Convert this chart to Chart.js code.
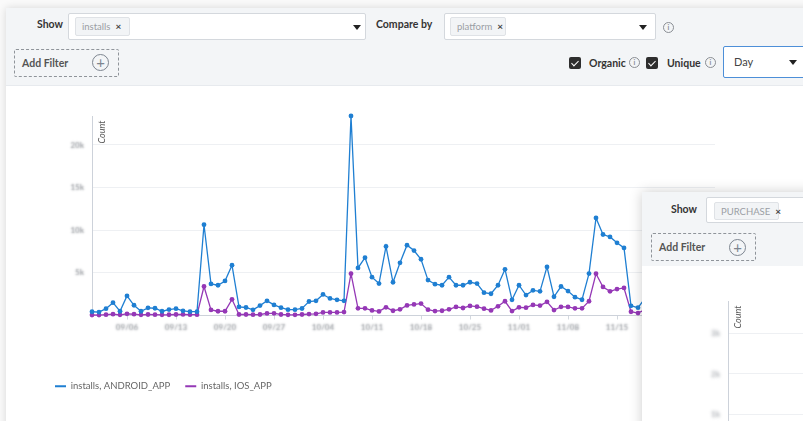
<!DOCTYPE html>
<html>
<head>
<meta charset="utf-8">
<script src="https://cdn.jsdelivr.net/npm/chart.js@4"></script>
<style>
  html, body { margin:0; padding:0; }
  body { width:803px; height:421px; overflow:hidden; position:relative; background:#fafafa; font-family:Lato, "Open Sans", sans-serif; color:#333; }
  .abs { position:absolute; }
  .card { background:#fff; box-shadow:0 0 8px rgba(0,0,0,0.14); }
  .hdr { background:#f3f5f7; border-bottom:1px solid #e7eaee; }
  .lbl { font-size:10.5px; font-weight:700; color:#333; line-height:14px; white-space:nowrap; }
  .sel { background:#fff; border:1px solid #d4d8dd; border-radius:2px; box-sizing:border-box; }
  .tag { background:#f2f4f6; border:1px solid #dfe2e6; border-radius:2px; box-sizing:border-box; font-size:9.5px; color:#9a9ea4; line-height:16px; padding-left:6px; white-space:nowrap; }
  .tag b { color:#444; font-weight:700; margin-left:5px; font-size:10px; }
  .arrow { width:0; height:0; border-left:4px solid transparent; border-right:4px solid transparent; border-top:5px solid #222; }
  .info { width:9px; height:9px; border:1px solid #8a8e94; border-radius:50%; font-size:7px; line-height:9px; text-align:center; color:#8a8e94; font-weight:700; }
  .dash { border:1px dashed #8f949a; box-sizing:border-box; border-radius:2px; }
  .plus { width:17px; height:17px; border:1px solid #7d8590; border-radius:50%; box-sizing:border-box; text-align:center; line-height:14px; font-size:15px; color:#7d8590; }
  .chk { width:12px; height:12px; background:#2e2e2e; border-radius:2px; }
  .chk:after { content:""; position:absolute; left:4px; top:1.5px; width:3px; height:6px; border:solid #fff; border-width:0 1.6px 1.6px 0; transform:rotate(45deg); }
</style>
</head>
<body>
<!-- main card -->
<div class="abs card" style="left:6px;top:8px;width:840px;height:460px;"></div>
<div class="abs hdr" style="left:6px;top:8px;width:840px;height:77px;"></div>

<div class="abs lbl" style="left:37px;top:17px;">Show</div>
<div class="abs sel" style="left:68px;top:13px;width:298px;height:27px;"></div>
<div class="abs tag" style="left:75px;top:17px;width:55px;height:19px;">installs<b>×</b></div>
<div class="abs arrow" style="left:353px;top:25px;"></div>

<div class="abs lbl" style="left:376px;top:17px;">Compare by</div>
<div class="abs sel" style="left:444px;top:13px;width:212px;height:27px;"></div>
<div class="abs tag" style="left:450px;top:17px;width:56px;height:19px;">platform<b>×</b></div>
<div class="abs arrow" style="left:639px;top:25px;"></div>
<div class="abs info" style="left:663px;top:22px;">i</div>

<div class="abs dash" style="left:14px;top:49px;width:105px;height:28px;"></div>
<div class="abs lbl" style="left:22px;top:56px;color:#555;">Add Filter</div>
<div class="abs plus" style="left:92px;top:54px;">+</div>

<div class="abs chk" style="left:569px;top:57px;"></div>
<div class="abs lbl" style="left:589px;top:56px;">Organic</div>
<div class="abs info" style="left:629px;top:57px;">i</div>
<div class="abs chk" style="left:646px;top:57px;"></div>
<div class="abs lbl" style="left:667px;top:56px;">Unique</div>
<div class="abs info" style="left:705px;top:57px;">i</div>
<div class="abs sel" style="left:723px;top:46px;width:90px;height:32px;border:1px solid #4d8fd8;"></div>
<div class="abs" style="left:734px;top:55px;font-size:11px;color:#444;line-height:14px;">Day</div>
<div class="abs arrow" style="left:789px;top:60px;"></div>

<div class="abs" style="left:0;top:90px;width:803px;height:320px;"><canvas id="main"></canvas></div>

<!-- overlay card -->
<div class="abs card" style="left:642px;top:192px;width:220px;height:260px;box-shadow:0 0 12px rgba(0,0,0,0.2);"></div>
<div class="abs hdr" style="left:642px;top:192px;width:220px;height:74px;border-bottom:none;"></div>
<div class="abs lbl" style="left:671px;top:202px;">Show</div>
<div class="abs sel" style="left:706px;top:197px;width:130px;height:26px;"></div>
<div class="abs tag" style="left:714px;top:202px;width:65px;height:18px;">PURCHASE<b>×</b></div>
<div class="abs dash" style="left:651px;top:233px;width:105px;height:28px;"></div>
<div class="abs lbl" style="left:659px;top:240px;color:#555;">Add Filter</div>
<div class="abs plus" style="left:729px;top:239px;">+</div>
<div class="abs" style="left:642px;top:266px;width:170px;height:250px;"><canvas id="purchase"></canvas></div>

<script>
// ---------- data ----------
const dates = [
  '09/01','09/02','09/03','09/04','09/05','09/06','09/07','09/08','09/09','09/10',
  '09/11','09/12','09/13','09/14','09/15','09/16','09/17','09/18','09/19','09/20',
  '09/21','09/22','09/23','09/24','09/25','09/26','09/27','09/28','09/29','09/30',
  '10/01','10/02','10/03','10/04','10/05','10/06','10/07','10/08','10/09','10/10',
  '10/11','10/12','10/13','10/14','10/15','10/16','10/17','10/18','10/19','10/20',
  '10/21','10/22','10/23','10/24','10/25','10/26','10/27','10/28','10/29','10/30',
  '10/31','11/01','11/02','11/03','11/04','11/05','11/06','11/07','11/08','11/09',
  '11/10','11/11','11/12','11/13','11/14','11/15','11/16','11/17','11/18','11/19',
  '11/20','11/21','11/22','11/23','11/24','11/25','11/26','11/27','11/28','11/29'
];
const androidInstalls = [
  440, 400, 800, 1500, 500, 2300, 1200, 500, 900, 850,
  500, 700, 800, 550, 450, 450, 10650, 3700, 3550, 4050,
  5900, 1000, 940, 660, 1160, 1720, 1240, 920, 680, 680,
  820, 1640, 1720, 2470, 2000, 1840, 1720, 23400, 5580, 6780,
  4500, 3750, 8100, 3900, 6180, 8250, 7620, 6600, 4150, 3670,
  3550, 4500, 3550, 3550, 3900, 3750, 2680, 2550, 3550, 5420,
  1840, 3550, 2390, 2950, 2830, 5700, 2200, 3400, 2870, 2150,
  1850, 4920, 11450, 9500, 9220, 8530, 7930, 1140, 920, 2000
];
const iosInstalls = [
  60, 50, 100, 150, 80, 200, 150, 80, 120, 100,
  80, 90, 120, 130, 100, 100, 3400, 650, 500, 500,
  1900, 120, 120, 100, 120, 240, 260, 120, 80, 80,
  120, 170, 200, 360, 360, 360, 400, 4900, 840, 840,
  600, 480, 960, 560, 720, 1180, 1300, 1400, 680, 520,
  560, 720, 1000, 880, 1120, 1040, 800, 600, 1080, 1670,
  520, 960, 920, 1240, 1160, 1600, 640, 1020, 1000, 840,
  840, 1670, 4900, 3350, 2830, 3100, 3230, 440, 280, 680
];
const seriesNames = ['installs, ANDROID_APP', 'installs, IOS_APP'];
const xTickLabels = ['09/06','09/13','09/20','09/27','10/04','10/11','10/18','10/25','11/01','11/08','11/15','11/22','11/29'];
const yTickValues = [5000, 10000, 15000, 20000];
const yTickText = ['5k', '10k', '15k', '20k'];
const purchaseTickValues = [1000, 2000, 3000];
const purchaseTickText = ['1k', '2k', '3k'];
const purchaseMax = 3800;
const axisTitle = 'Count';

// ---------- styling ----------
Chart.defaults.font.family = 'Lato, "Open Sans", sans-serif';
const BLUE = '#1f7fd2';
const PURPLE = '#9538b6';
const OFF = 10000;

// draws the (blurred-looking) tick labels of each scale and the inner "Count" title
const decor = {
  id: 'decor',
  afterDraw(chart, args, opts) {
    const ctx = chart.ctx, a = chart.chartArea;
    ['x', 'y'].forEach(id => {
      const s = chart.scales[id];
      if (!opts[id]) return;
      ctx.save();
      ctx.font = 'bold 8px Lato, sans-serif';
      ctx.fillStyle = '#000';
      ctx.shadowColor = opts.color;
      ctx.shadowBlur = opts.blur;
      ctx.shadowOffsetX = OFF * (chart.currentDevicePixelRatio || 1);
      ctx.shadowOffsetY = 0;
      ctx.textBaseline = 'middle';
      ctx.textAlign = id === 'x' ? 'center' : 'right';
      s.ticks.forEach((t, i) => {
        const p = s.getPixelForTick(i);
        if (id === 'x') ctx.fillText(t.label, p - OFF, s.top + 12);
        else ctx.fillText(t.label, s.right - 8 - OFF, p);
      });
      ctx.restore();
    });
    ctx.save();
    ctx.translate(a.left + 10, a.top + 16);
    ctx.rotate(-Math.PI / 2);
    ctx.font = 'italic 9px Lato, sans-serif';
    ctx.fillStyle = '#555';
    ctx.textAlign = 'center';
    ctx.textBaseline = 'middle';
    ctx.fillText(axisTitle, 0, 0);
    ctx.restore();
  }
};

function ds(label, data, color) {
  return { label, data, borderColor: color, backgroundColor: color, borderWidth: 1.3,
           pointRadius: 2.4, pointBorderWidth: 0, pointBackgroundColor: color,
           tension: 0, clip: false };
}

new Chart(document.getElementById('main'), {
  type: 'line',
  data: { labels: dates, datasets: [ds(seriesNames[0], androidInstalls, BLUE), ds(seriesNames[1], iosInstalls, PURPLE)] },
  plugins: [decor],
  options: {
    responsive: true, maintainAspectRatio: false, animation: false,
    layout: { padding: { left: 40, right: 88, top: 26, bottom: 9 } },
    plugins: {
      decor: { blur: 2.2, color: '#8c9096', x: true, y: true },
      tooltip: { enabled: false },
      legend: {
        position: 'bottom', align: 'start',
        labels: { usePointStyle: true, pointStyle: 'line', pointStyleWidth: 11, padding: 15,
                  color: '#666', font: { size: 9.5 },
                  generateLabels: chart => Chart.defaults.plugins.legend.labels.generateLabels(chart)
                    .map(l => Object.assign(l, { lineWidth: 2, strokeStyle: chart.data.datasets[l.datasetIndex].borderColor })) }
      }
    },
    scales: {
      x: {
        afterFit: s => { s.height = 51; },
        afterBuildTicks: s => { s.ticks = s.ticks.filter(t => xTickLabels.includes(dates[t.value])); },
        grid: { drawOnChartArea: false, drawTicks: true, tickLength: 4, color: '#d3d8df' },
        border: { color: '#cdd2da' },
        ticks: { autoSkip: false, maxRotation: 0, padding: 3, color: 'rgba(0,0,0,0)', font: { size: 8, weight: 'bold' } }
      },
      y: {
        min: 0, max: Math.max(...androidInstalls),
        afterFit: s => { s.width = 52; },
        afterBuildTicks: s => { s.ticks = yTickValues.map(v => ({ value: v })); },
        grid: { drawTicks: false, color: '#eef0f3' },
        border: { color: '#cdd2da' },
        ticks: { padding: 8, color: 'rgba(0,0,0,0)', font: { size: 8, weight: 'bold' },
                 callback: v => yTickText[yTickValues.indexOf(v)] }
      }
    }
  }
});

new Chart(document.getElementById('purchase'), {
  type: 'line',
  data: { labels: dates, datasets: [] },
  plugins: [decor],
  options: {
    responsive: true, maintainAspectRatio: false, animation: false,
    layout: { padding: { left: 46, right: 0, top: 35, bottom: 11 } },
    plugins: { decor: { blur: 3.5, color: '#9a9ea4', x: false, y: true }, legend: { display: false }, tooltip: { enabled: false } },
    scales: {
      x: { afterFit: s => { s.height = 50; }, ticks: { display: false }, grid: { display: false }, border: { color: '#cdd2da' } },
      y: {
        min: 0, max: purchaseMax,
        afterFit: s => { s.width = 40; },
        afterBuildTicks: s => { s.ticks = purchaseTickValues.map(v => ({ value: v })); },
        grid: { drawTicks: false, color: '#eef0f3' },
        border: { color: '#cdd2da' },
        ticks: { padding: 8, color: 'rgba(0,0,0,0)', font: { size: 8, weight: 'bold' },
                 callback: v => purchaseTickText[purchaseTickValues.indexOf(v)] }
      }
    }
  }
});
</script>
</body>
</html>
